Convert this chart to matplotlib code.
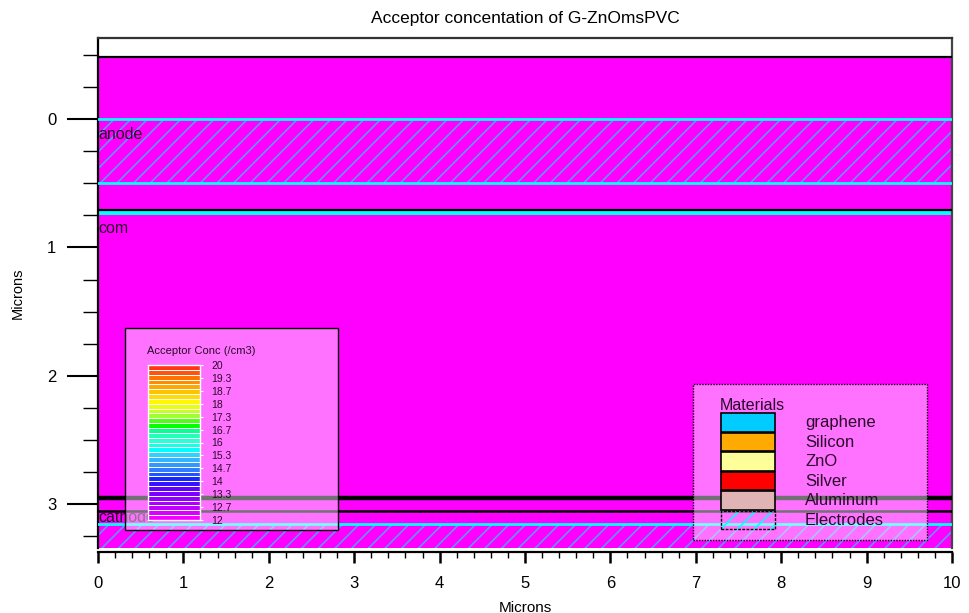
import numpy as np
import matplotlib
matplotlib.use("Agg")
import matplotlib.pyplot as plt
from matplotlib.patches import Rectangle
from matplotlib.colors import LinearSegmentedColormap
from matplotlib.ticker import MultipleLocator

plt.rcParams['font.family'] = ['Liberation Sans', 'DejaVu Sans']
plt.rcParams['hatch.linewidth'] = 1.1

# ---- device structure (microns) ----
x_extent = [0.0, 10.0]
y_view = [-0.63, 3.34]          # visible depth range
device_top = -0.48
device_bottom = 3.34
anode = (0.0, 0.5)
com = (0.72, 0.75)
cathode = (3.15, 3.34)
interfaces = [device_top, 0.71, 2.95, 3.05]
interface_widths = [1.6, 1.6, 3.2, 1.8]
electrode_names = ["anode", "com", "cathode"]
electrode_label_y = [0.12, 0.85, 3.10]

# ---- acceptor concentration scale (log10 /cm3) ----
conc_min, conc_max = 12.0, 20.0
conc_tick_labels = ["20", "19.3", "18.7", "18", "17.3", "16.7", "16",
                    "15.3", "14.7", "14", "13.3", "12.7", "12"]
conc_ticks = [20.0, 19.33, 18.67, 18.0, 17.33, 16.67, 16.0,
              15.33, 14.67, 14.0, 13.33, 12.67, 12.0]
n_bands = 32

# ---- materials legend ----
materials = ["graphene", "Silicon", "ZnO", "Silver", "Aluminum", "Electrodes"]
material_colors = ["#00CCFF", "#FFAA00", "#FFFF99", "#FF0000", "#E0B4B4", None]

W, H = 970, 613
fig = plt.figure(figsize=(W / 100, H / 100), dpi=100)


def fx(px):
    return px / W


def fy(py):
    return 1 - py / H


MAGENTA = "#FF00FF"
CYAN = "#00FFFF"
HATCH = "#55A0FF"
TXT = "#2a0a2a"

ax = fig.add_axes([fx(98), fy(548), fx(952) - fx(98), fy(38) - fy(548)])
ax.set_xlim(*x_extent)
ax.set_ylim(y_view[1], y_view[0])

# substrate fill
ax.fill_between(x_extent, device_top, device_bottom, color=MAGENTA, lw=0, zorder=1)

# electrodes: hatched regions with cyan boundaries
for top, bot in (anode, cathode):
    ax.fill_between(x_extent, top, bot, facecolor="none", edgecolor=HATCH,
                    hatch="//", lw=0, zorder=2)
    ax.axhline(top, color=CYAN, lw=2.0, zorder=3)
    if bot < device_bottom:
        ax.axhline(bot, color=CYAN, lw=2.0, zorder=3)

ax.fill_between(x_extent, com[0], com[1], color=CYAN, lw=0, zorder=2)

for yv, lw in zip(interfaces, interface_widths):
    ax.axhline(yv, color="black", lw=lw, zorder=4)

for name, yv in zip(electrode_names, electrode_label_y):
    ax.text(0.0, yv, name, fontsize=11.5, color=TXT, ha="left", va="center", zorder=5)

# axes styling
ax.xaxis.set_major_locator(MultipleLocator(1))
ax.xaxis.set_minor_locator(MultipleLocator(0.2))
ax.yaxis.set_major_locator(MultipleLocator(1))
ax.yaxis.set_minor_locator(MultipleLocator(0.25))
ax.tick_params(axis="y", which="major", direction="out", length=22, width=1.5,
               pad=8, labelsize=12)
ax.tick_params(axis="y", which="minor", direction="out", length=11, width=1.0)
ax.tick_params(axis="x", which="major", direction="out", length=8, width=1.8,
               pad=9, labelsize=12)
ax.tick_params(axis="x", which="minor", direction="out", length=4.5, width=1.0)
ax.spines["bottom"].set_position(("outward", 3))
for s in ax.spines.values():
    s.set_linewidth(1.6)
ax.spines["top"].set_color("#333333")
ax.spines["right"].set_color("#444444")
ax.set_xlabel("Microns", fontsize=11, labelpad=7)
ax.set_ylabel("Microns", fontsize=10.5, labelpad=16)
ax.set_title("Acceptor concentation of G-ZnOmsPVC", fontsize=12.5, pad=11)

# ---- translucent panels ----
panel_kw = dict(facecolor=(1, 1, 1, 0.45), transform=fig.transFigure,
                clip_on=False, zorder=10)
ax.add_patch(Rectangle((fx(125), fy(530)), fx(338) - fx(125), fy(328) - fy(530),
                       edgecolor="black", lw=1.0, **panel_kw))
ax.add_patch(Rectangle((fx(693), fy(540)), fx(927) - fx(693), fy(384) - fy(540),
                       edgecolor="black", lw=1.0, linestyle=(0, (1, 1)), **panel_kw))

# ---- concentration colour bar ----
fig.text(fx(147), fy(351), "Acceptor Conc (/cm3)", fontsize=8, color=TXT,
         ha="left", va="center", zorder=20)
cax = fig.add_axes([fx(148), fy(520), fx(200) - fx(148), fy(365) - fy(520)])
rainbow = LinearSegmentedColormap.from_list("conc", [
    (0.00, "#FF00FF"), (0.10, "#B000FF"), (0.20, "#6A00FF"), (0.26, "#1020FF"),
    (0.33, "#2F7FFF"), (0.42, "#33CCFF"), (0.45, "#00FFFF"), (0.53, "#33FFCC"),
    (0.59, "#00FF88"), (0.61, "#00FF00"), (0.68, "#AAFF33"), (0.76, "#FFFF00"),
    (0.84, "#FFBB00"), (0.92, "#FF7700"), (1.00, "#FF2A1A")])
edges = np.linspace(conc_min, conc_max, n_bands + 1)
centers = 0.5 * (edges[:-1] + edges[1:])
cax.pcolormesh([0, 1], edges, centers[:, None], cmap=rainbow,
               norm=plt.Normalize(conc_min, conc_max), edgecolor="white", lw=0.45)
cax.set_xlim(0, 1)
cax.set_ylim(conc_min, conc_max)
cax.set_xticks([])
cax.yaxis.tick_right()
cax.set_yticks(conc_ticks)
cax.set_yticklabels(conc_tick_labels)
cax.tick_params(axis="y", length=2, width=0.8, color="white", pad=6,
                labelsize=7.5, labelcolor=TXT)
for s in cax.spines.values():
    s.set_color("white")
    s.set_linestyle((0, (1, 1)))
    s.set_linewidth(1.0)

# ---- materials legend ----
fig.text(fx(720), fy(406), "Materials", fontsize=11.5, color=TXT,
         ha="left", va="center", zorder=20)
sw_top, sw_h = 413, 19.5
for i, (name, col) in enumerate(zip(materials, material_colors)):
    y0 = sw_top + i * sw_h
    box = ((fx(721), fy(y0 + sw_h - 1)), fx(775) - fx(721), fy(y0) - fy(y0 + sw_h - 1))
    if col is None:
        ax.add_patch(Rectangle(*box, facecolor="none", edgecolor=CYAN, hatch="//",
                               lw=0, transform=fig.transFigure, clip_on=False,
                               zorder=11))
        ax.add_patch(Rectangle(*box, facecolor="none", edgecolor="black", lw=1.0,
                               linestyle=(0, (2, 1)), transform=fig.transFigure,
                               clip_on=False, zorder=12))
    else:
        ax.add_patch(Rectangle(*box, facecolor=col, edgecolor="black", lw=1.2,
                               transform=fig.transFigure, clip_on=False, zorder=11))
    fig.text(fx(805), fy(y0 + sw_h / 2), name, fontsize=12, color=TXT,
             ha="left", va="center", zorder=20)

fig.savefig("out.png", dpi=100)
